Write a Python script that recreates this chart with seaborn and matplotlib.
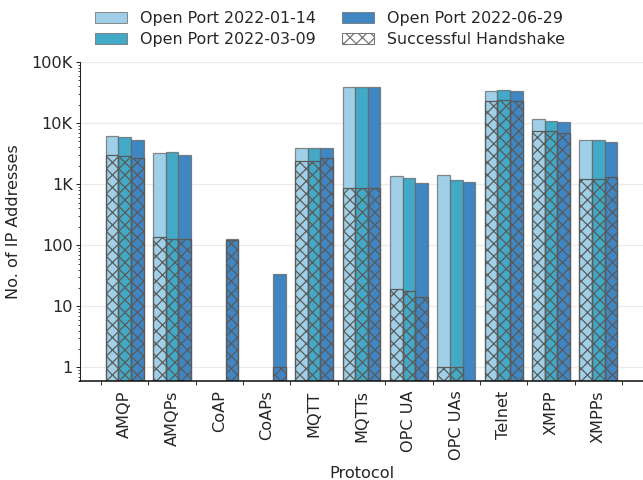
import numpy as np
import pandas as pd
import matplotlib
matplotlib.use("Agg")
import matplotlib.pyplot as plt
import seaborn as sns
from matplotlib.patches import Patch
from matplotlib.ticker import FixedLocator, FuncFormatter, LogLocator, NullFormatter

# ---------------- data ----------------
protocols = ["AMQP", "AMQPs", "CoAP", "CoAPs", "MQTT", "MQTTs",
             "OPC UA", "OPC UAs", "Telnet", "XMPP", "XMPPs"]
series_labels = ["Open Port 2022-01-14", "Open Port 2022-03-09", "Open Port 2022-06-29"]

open_0114 = [6170, 3300, 0, 0, 3930, 38300, 1337, 1387, 32900, 11450, 5380]
open_0309 = [5940, 3390, 0, 0, 3930, 39700, 1240, 1150, 34200, 11000, 5190]
open_0629 = [5380, 3060, 127, 34.5, 3930, 38300, 1026, 1090, 32900, 10470, 4820]

hs_0114 = [2950, 139, 0, 0, 2440, 860, 19, 1, 22800, 7360, 1220]
hs_0309 = [2840, 129, 0, 0, 2440, 860, 18, 1, 23700, 7360, 1220]
hs_0629 = [2640, 129, 124, 1, 2640, 860, 14, 0, 22600, 7000, 1290]

tick_values = [1, 10, 100, 1000, 10000, 100000]
tick_labels = ["1", "10", "100", "1K", "10K", "100K"]

colors = ["#9fd0e7", "#42a9c6", "#3f86c2"]


def long_form(cols):
    rows = []
    for lab, vals in zip(series_labels, cols):
        for p, v in zip(protocols, vals):
            if v > 0:
                rows.append({"Protocol": p, "series": lab, "count": v})
    return pd.DataFrame(rows)


df_open = long_form([open_0114, open_0309, open_0629])
df_hs = long_form([hs_0114, hs_0309, hs_0629])

# ---------------- style ----------------
sns.set_style("ticks")
plt.rcParams["font.family"] = ["DejaVu Sans"]
plt.rcParams["font.size"] = 15.5
plt.rcParams["hatch.linewidth"] = 1.2
plt.rcParams["hatch.color"] = "#5a5a5a"

DPI = 75
fig = plt.figure(figsize=(643 / DPI, 480 / DPI), dpi=DPI)
ax = fig.add_axes([80 / 643, 99 / 480, 563 / 643, 319 / 480])

pal = dict(zip(series_labels, colors))

sns.barplot(data=df_open, x="Protocol", y="count", hue="series",
            order=protocols, hue_order=series_labels, palette=pal,
            saturation=1, errorbar=None,
            edgecolor=(0.4, 0.4, 0.4, 0.75), linewidth=1.2,
            legend=False, ax=ax)
n_open = len(ax.containers)
sns.barplot(data=df_hs, x="Protocol", y="count", hue="series",
            order=protocols, hue_order=series_labels, palette=pal,
            saturation=1, errorbar=None, edgecolor="#5a5a5a", linewidth=1.2,
            legend=False, ax=ax)
for cont in ax.containers[n_open:]:
    for patch in cont:
        patch.set_facecolor("none")
        patch.set_hatch("xx")
        patch.set_edgecolor("#5a5a5a")

ax.set_yscale("log")
ax.set_ylim(0.6, 1e5)
ax.set_xlim(-0.94, 10.94)

ax.yaxis.set_major_locator(FixedLocator(tick_values))
ax.yaxis.set_major_formatter(FuncFormatter(
    lambda v, pos: dict(zip(tick_values, tick_labels)).get(round(v), "")))
ax.yaxis.set_minor_locator(LogLocator(base=10, subs=np.arange(2, 10)))
ax.yaxis.set_minor_formatter(NullFormatter())

ax.set_xticks(range(len(protocols)))
ax.set_xticklabels(protocols, rotation=90)
ax.xaxis.set_minor_locator(FixedLocator(np.arange(-0.5, len(protocols), 1.0)))
ax.tick_params(axis="x", which="major", length=0, pad=9, labelsize=15.5)
ax.tick_params(axis="x", which="minor", length=4, width=1, color="#333333")
ax.tick_params(axis="y", which="major", length=3.5, width=1, labelsize=15.5)
ax.tick_params(axis="y", which="minor", length=2, width=0.8)

ax.grid(axis="y", which="major", color="#ebebeb", linewidth=1.2)
ax.set_axisbelow(True)
for s in ["top", "right"]:
    ax.spines[s].set_visible(False)
ax.spines["left"].set_linewidth(1.0)
ax.spines["bottom"].set_linewidth(1.5)
ax.spines["left"].set_color("#222222")
ax.spines["bottom"].set_color("#111111")

ax.set_xlabel("Protocol", fontsize=15.5, labelpad=6)
ax.set_ylabel("No. of IP Addresses", fontsize=15.5, labelpad=10)

handles = [Patch(facecolor=c, edgecolor=(0.45, 0.45, 0.45, 0.8), linewidth=1.0)
           for c in colors]
handles.append(Patch(facecolor="white", edgecolor="#777777", hatch="xx", linewidth=1.0))
labels = series_labels + ["Successful Handshake"]
fig.legend(handles, labels, ncol=2, loc="center",
           bbox_to_anchor=(330 / 643, 1 - 29 / 480), frameon=False,
           fontsize=15.2, columnspacing=1.7, handlelength=2.0,
           handletextpad=0.8, labelspacing=0.4)

fig.savefig("out.png", dpi=DPI)
